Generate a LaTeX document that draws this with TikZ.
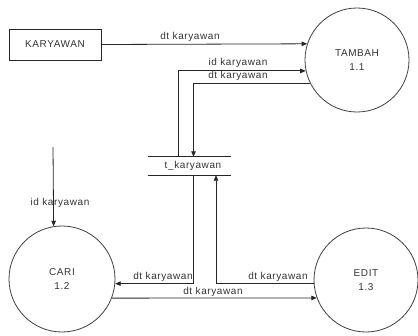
\documentclass[tikz,border=0pt]{standalone}
\usepackage{fontspec}
\setmainfont{Liberation Sans}[LetterSpace=6]
\usetikzlibrary{arrows.meta}
\begin{document}
\begin{tikzpicture}[x=1pt,y=-1pt,
  txt/.style={font=\fontsize{10}{12}\selectfont, text=black!80},
  lbl/.style={txt, inner sep=0pt},
  flow/.style={draw=black!85, line width=0.8pt, -{Triangle[length=5.5pt,width=4.5pt]}},
  wire/.style={draw=black!85, line width=0.8pt},
  proc/.style={circle, draw=black!75, line width=0.8pt, inner sep=0pt,
    minimum size=#1, align=center, txt},
  entity/.style={rectangle, draw=black!85, line width=0.8pt, inner sep=0pt,
    minimum width=92pt, minimum height=31pt, txt},
]
\useasboundingbox (0,0) rectangle (418,335);

% external entity and processes
\node[entity] (kary) at (55,44.5) {KARYAWAN};
\node[proc=104pt] (tambah) at (357,60) {TAMBAH\\[2pt]1.1};
\node[proc=106pt] (cari) at (62,279) {CARI\\[2pt]1.2};
\node[proc=104pt] (edit) at (366,280) {EDIT\\[2pt]1.3};

% data store
\node[minimum width=83pt, minimum height=18pt, inner sep=0pt] (store) at (189.5,166) {};
\draw[wire] (store.north west) -- (store.north east);
\draw[wire] (store.south west) -- (store.south east);
\node[lbl] (storename) at (193,166) {t\_karyawan};

% routing columns
\coordinate (c1) at (178,71);
\coordinate (c2) at (193.5,83);
\coordinate (c3) at (216,284);
\coordinate (idtop) at (53,147);

% flows
\draw[flow] (kary.east) -- (tambah.162.1);
\draw[flow] (store.north -| c1) |- (tambah.192.2);
\draw[flow] (tambah.206.2) -| (store.north -| c2);
\draw[flow] (store.south -| c2) |- (cari.-5.4);
\draw[flow] (edit.184.4) -| (store.south -| c3);
\draw[flow] (cari.-21) -- (edit.200.3);
\draw[flow] (idtop) -- (cari.99.8);

% flow labels
\node[lbl] at (190,37) {dt karyawan};
\node[lbl] at (238,63) {id karyawan};
\node[lbl] at (238,76) {dt karyawan};
\node[lbl] at (60,203) {id karyawan};
\node[lbl] at (163,277) {dt karyawan};
\node[lbl] at (278,277) {dt karyawan};
\node[lbl] at (213,292) {dt karyawan};
\end{tikzpicture}
\end{document}
